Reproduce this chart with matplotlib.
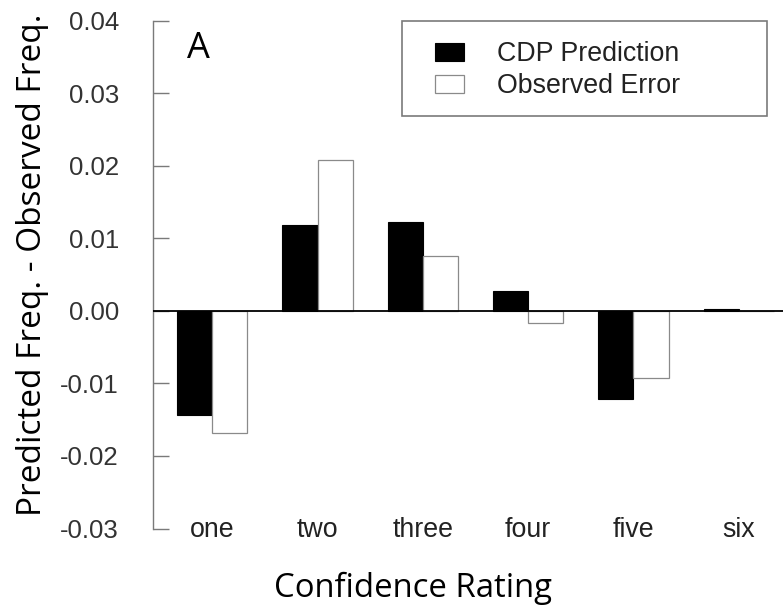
import matplotlib
matplotlib.use("Agg")
import matplotlib.pyplot as plt
from matplotlib.patches import Patch, Rectangle
import numpy as np

# data
categories = ["one", "two", "three", "four", "five", "six"]
cdp_prediction = [-0.0144, 0.0119, 0.0123, 0.0027, -0.0122, 0.0003]
observed_error = [-0.0169, 0.0208, 0.0075, -0.0017, -0.0093, 0.0]
y_ticks = [-0.03, -0.02, -0.01, 0.00, 0.01, 0.02, 0.03, 0.04]

plt.rcParams["axes.unicode_minus"] = False
TICK_FONT = "Liberation Sans"
LABEL_FONT = "Open Sans"

W, H = 783, 606
fig = plt.figure(figsize=(W / 100, H / 100), dpi=100)
ax = fig.add_axes([153.3 / W, (H - 528.5) / H, 644.4 / W, 507.8 / H])

# R barplot(beside=TRUE) layout: bar width 1, one unit gap between groups
groups = np.arange(len(categories)) * 3
ax.bar(groups + 1.5, cdp_prediction, width=1.0, color="black",
       edgecolor="black", linewidth=0.8, label="CDP Prediction", zorder=2)
ax.bar(groups + 2.5, observed_error, width=1.0, color="white",
       edgecolor="#8a8a8a", linewidth=0.9, label="Observed Error", zorder=2)
ax.axhline(0, color="black", linewidth=1.3, zorder=3)

ax.set_xlim(0.32, 18.68)
ax.set_ylim(-0.03, 0.04)

for s in ["top", "right", "bottom"]:
    ax.spines[s].set_visible(False)
ax.spines["left"].set_color("#7a7a7a")
ax.spines["left"].set_linewidth(1.0)

ax.set_yticks(y_ticks)
ax.set_yticklabels([f"{v:.2f}" for v in y_ticks], fontfamily=TICK_FONT,
                   fontsize=18.5, color="#333333")
ax.tick_params(axis="y", direction="in", length=11.5, width=1.0,
               color="#7a7a7a", pad=24.7)

ax.set_xticks(groups + 2)
ax.set_xticklabels(categories, fontfamily=TICK_FONT, fontsize=19.3,
                   color="#222222", va="center")
ax.tick_params(axis="x", length=0, pad=1)

# axis titles and panel letter
fig.text(413 / W, 1 - 597 / H, "Confidence Rating", fontfamily=LABEL_FONT,
         fontsize=23.7, ha="center", va="baseline")
fig.text(33 / W, 1 - 265 / H, "Predicted Freq. - Observed Freq.",
         fontfamily=LABEL_FONT, fontsize=24, rotation=90,
         ha="center", va="center")
fig.text(187 / W, 1 - 58.3 / H, "A", fontfamily=LABEL_FONT, fontsize=26,
         ha="left", va="baseline")

# legend with a separate frame
handles = [Patch(facecolor="black", edgecolor="black", linewidth=0.8),
           Patch(facecolor="white", edgecolor="#8a8a8a", linewidth=0.9)]
leg = fig.legend(handles, ["CDP Prediction", "Observed Error"],
                 loc="upper left", bbox_to_anchor=(435 / W, 1 - 41 / H),
                 frameon=False, borderpad=0, borderaxespad=0,
                 handlelength=1.1, handleheight=0.66, handletextpad=1.2,
                 labelspacing=0.24,
                 prop={"family": TICK_FONT, "size": 19.3})
for t in leg.get_texts():
    t.set_color("#222222")
fig.patches.append(Rectangle((401.7 / W, 1 - 116 / H), 365.3 / W, 95 / H,
                             transform=fig.transFigure, fill=False,
                             edgecolor="#7a7a7a", linewidth=1.2))

fig.savefig("out.png", dpi=100)
